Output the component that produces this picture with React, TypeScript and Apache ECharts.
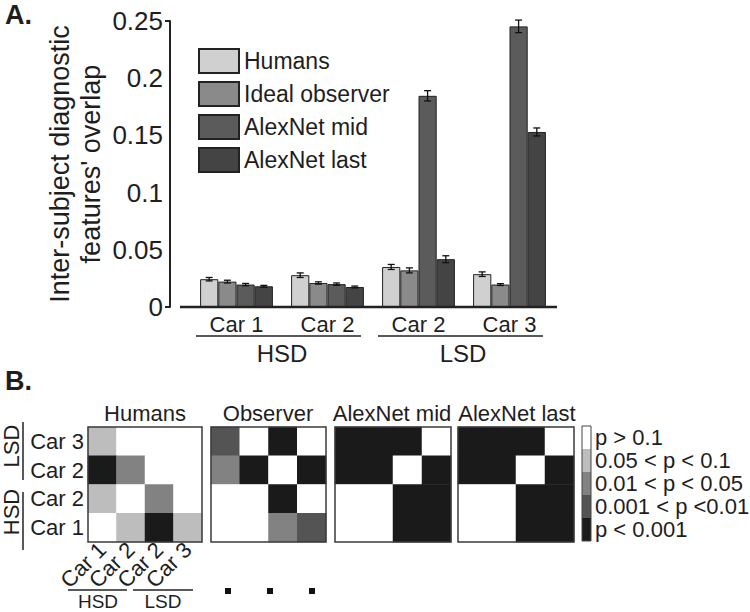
import React, { useEffect, useRef } from "react";
import * as echarts from "echarts";

// ---------- Panel A data ----------
const barCategories = ["Car 1", "Car 2", "Car 2", "Car 3"];
const seriesNames = ["Humans", "Ideal observer", "AlexNet mid", "AlexNet last"];
const humansVals = [0.0243, 0.0278, 0.035, 0.0287];
const idealVals = [0.0222, 0.021, 0.032, 0.0196];
const midVals = [0.0196, 0.0200, 0.1846, 0.2453];
const lastVals = [0.0181, 0.0175, 0.0418, 0.153];
const humansErr = [0.0015, 0.002, 0.0022, 0.002];
const idealErr = [0.0012, 0.001, 0.0022, 0.0008];
const midErr = [0.001, 0.001, 0.0045, 0.0055];
const lastErr = [0.0008, 0.0008, 0.003, 0.0035];
const yTicks = [0, 0.05, 0.1, 0.15, 0.2, 0.25];

// ---------- Panel B data ----------
// level codes: 0 = p<0.001, 1 = 0.001<p<0.01, 2 = 0.01<p<0.05, 3 = 0.05<p<0.1, 4 = p>0.1
const matCols = ["Car 1", "Car 2", "Car 2", "Car 3"]; // HSD Car1, HSD Car2, LSD Car2, LSD Car3
const matRows = ["Car 1", "Car 2", "Car 2", "Car 3"]; // bottom to top
const matTitles = ["Humans", "Observer", "AlexNet mid", "AlexNet last"];
// rows listed top (LSD Car 3) to bottom (HSD Car 1)
const humansMat = [
  [3, 4, 4, 4],
  [0, 2, 4, 4],
  [3, 4, 2, 4],
  [4, 3, 0, 3],
];
const observerMat = [
  [1, 4, 0, 4],
  [2, 0, 4, 0],
  [4, 4, 0, 4],
  [4, 4, 2, 1],
];
const alexMidMat = [
  [0, 0, 0, 4],
  [0, 0, 4, 0],
  [4, 4, 0, 0],
  [4, 4, 0, 0],
];
const alexLastMat = [
  [0, 0, 0, 4],
  [0, 0, 4, 0],
  [4, 4, 0, 0],
  [4, 4, 0, 0],
];
const levelLabels = ["p < 0.001", "0.001 < p <0.01", "0.01 < p < 0.05", "0.05 < p < 0.1", "p > 0.1"];
const levelColors = ["#1a1a1a", "#545454", "#828282", "#bdbdbd", "#ffffff"];

const FONT = "'Liberation Sans', Arial, Helvetica, sans-serif";
const TXT = "#1e1e1e";

function toCells(mat: number[][]) {
  const out: number[][] = [];
  mat.forEach((row, r) => {
    row.forEach((v, c) => out.push([c, 3 - r, v]));
  });
  return out;
}

export default function App() {
  const ref = useRef<HTMLDivElement>(null);
  useEffect(() => {
    document.body.style.margin = "0";
    const chart = echarts.init(ref.current!, null, { renderer: "svg" });

    const barColors = ["#d0d0d0", "#8a8a8a", "#5b5b5b", "#444444"];
    const vals = [humansVals, idealVals, midVals, lastVals];
    const errs = [humansErr, idealErr, midErr, lastErr];
    const errData: number[][] = [];
    vals.forEach((arr, s) => arr.forEach((v, c) => errData.push([c, v, errs[s][c], s])));

    const mats = [humansMat, observerMat, alexMidMat, alexLastMat];
    const hmGrids = [
      { left: 88, top: 427, width: 114, height: 115 },
      { left: 211, top: 427, width: 115, height: 115 },
      { left: 335, top: 427, width: 116, height: 115 },
      { left: 458, top: 427, width: 116, height: 115 },
    ];

    const grids: any[] = [{ left: 191, right: 195, top: 21, bottom: 305 }];
    hmGrids.forEach((g) => grids.push({ ...g }));

    const xAxes: any[] = [
      {
        type: "category",
        gridIndex: 0,
        data: barCategories,
        axisLine: { show: false },
        axisTick: { show: false },
        axisLabel: { fontSize: 22, color: TXT, fontFamily: FONT, margin: 6, interval: 0 },
      },
    ];
    const yAxes: any[] = [
      {
        type: "value",
        gridIndex: 0,
        min: 0,
        max: 0.25,
        interval: 0.05,
        offset: 21,
        splitLine: { show: false },
        axisLine: { show: true, lineStyle: { color: "#222", width: 2 } },
        axisTick: { show: false },
        axisLabel: { fontSize: 26, color: TXT, fontFamily: FONT, margin: 7 },
        name: "Inter-subject diagnostic\nfeatures' overlap",
        nameLocation: "middle",
        nameGap: 64,
        nameTextStyle: { fontSize: 27, color: TXT, fontFamily: FONT, lineHeight: 31 },
      },
    ];
    hmGrids.forEach((g, i) => {
      xAxes.push({
        type: "category",
        gridIndex: i + 1,
        data: matCols,
        axisLine: { show: false },
        axisTick: { show: true, inside: true, length: 3, alignWithLabel: true, lineStyle: { color: "#666" } },
        axisLabel: i === 0
          ? { show: true, rotate: 45, interval: 0, fontSize: 22, color: TXT, fontFamily: FONT, margin: 4 }
          : { show: false },
      });
      yAxes.push({
        type: "category",
        gridIndex: i + 1,
        data: matRows,
        axisLine: { show: false },
        axisTick: { show: true, inside: true, length: 3, alignWithLabel: true, lineStyle: { color: "#666" } },
        axisLabel: i === 0
          ? { show: true, interval: 0, fontSize: 22, color: TXT, fontFamily: FONT, margin: 4 }
          : { show: false },
      });
    });

    const series: any[] = vals.map((arr, s) => ({
      name: seriesNames[s],
      type: "bar",
      xAxisIndex: 0,
      yAxisIndex: 0,
      data: arr,
      barGap: "0%",
      barCategoryGap: "20%",
      itemStyle: { color: barColors[s], borderColor: "#222", borderWidth: 1 },
    }));
    series.push({
      type: "custom",
      name: "err",
      xAxisIndex: 0,
      yAxisIndex: 0,
      data: errData,
      encode: { x: 0, y: 1 },
      z: 5,
      renderItem: (params: any, api: any) => {
        const c = api.value(0);
        const v = api.value(1);
        const e = api.value(2);
        const s = api.value(3);
        const band = api.size([1, 0])[0];
        const bw = (band * 0.8) / 4;
        const center = api.coord([c, v]);
        const x = center[0] - band * 0.4 + (s + 0.5) * bw;
        const top = api.coord([c, v + e])[1];
        const bot = api.coord([c, v - e])[1];
        const cap = 3.5;
        const st = { stroke: "#111", lineWidth: 1.3 };
        return {
          type: "group",
          children: [
            { type: "line", shape: { x1: x, y1: top, x2: x, y2: bot }, style: st },
            { type: "line", shape: { x1: x - cap, y1: top, x2: x + cap, y2: top }, style: st },
            { type: "line", shape: { x1: x - cap, y1: bot, x2: x + cap, y2: bot }, style: st },
          ],
        };
      },
    });
    mats.forEach((m, i) => {
      series.push({
        type: "heatmap",
        name: matTitles[i],
        xAxisIndex: i + 1,
        yAxisIndex: i + 1,
        data: toCells(m),
        itemStyle: { borderWidth: 0 },
        emphasis: { disabled: true },
      });
    });

    const graphics: any[] = [];
    const txt = (text: string, x: number, y: number, size: number, extra: any = {}) => ({
      type: "text",
      x,
      y,
      rotation: extra.rotation || 0,
      style: {
        text,
        fontSize: size,
        fontFamily: FONT,
        fontWeight: extra.bold ? "bold" : "normal",
        fill: TXT,
        textAlign: extra.align || "center",
        textVerticalAlign: "middle",
      },
      z: 10,
    });
    const ln = (x1: number, y1: number, x2: number, y2: number, w = 1.5, color = "#222") => ({
      type: "line",
      shape: { x1, y1, x2, y2 },
      style: { stroke: color, lineWidth: w },
      z: 10,
    });
    // Panel labels
    graphics.push(txt("A.", 5, 15, 27, { bold: true, align: "left" }));
    graphics.push(txt("B.", 5, 381, 27, { bold: true, align: "left" }));
    // bar chart x axis baseline and y end ticks
    graphics.push(ln(180, 307, 557, 307, 2.5));
    graphics.push(ln(165, 21, 170, 21, 2));
    graphics.push(ln(165, 307, 170, 307, 2));
    // group annotations for bar chart
    graphics.push(ln(196, 336, 361, 336, 1.5));
    graphics.push(ln(378, 336, 543, 336, 1.5));
    graphics.push(txt("HSD", 282, 353, 24));
    graphics.push(txt("LSD", 463, 353, 24));
    // heatmap titles & frames
    const titleX = [145, 268, 392, 517];
    hmGrids.forEach((g, i) => {
      graphics.push(txt(matTitles[i], titleX[i], 413, 22));
      graphics.push({
        type: "rect",
        shape: { x: g.left, y: g.top, width: g.width, height: g.height },
        style: { fill: "none", stroke: "#3a3a3a", lineWidth: 1.5 },
        z: 10,
      });
    });
    // row group labels
    graphics.push(ln(23, 422, 23, 480, 1.5));
    graphics.push(ln(23, 492, 23, 550, 1.5));
    graphics.push(txt("LSD", 11, 446, 22, { rotation: Math.PI / 2 }));
    graphics.push(txt("HSD", 11, 512, 22, { rotation: Math.PI / 2 }));
    // column group labels
    graphics.push(ln(68, 590, 127, 590, 1.5));
    graphics.push(ln(133, 590, 193, 590, 1.5));
    graphics.push(txt("HSD", 98, 601, 19));
    graphics.push(txt("LSD", 163, 601, 19));
    // small dots under other matrices
    [228, 270, 312].forEach((x) => {
      graphics.push({ type: "rect", shape: { x: x - 3, y: 588, width: 6, height: 6 }, style: { fill: "#111" }, z: 10 });
    });
    // colorbar frame
    graphics.push({
      type: "rect",
      shape: { x: 582, y: 426, width: 9, height: 115 },
      style: { fill: "none", stroke: "#444", lineWidth: 1 },
      z: 10,
    });

    chart.setOption({
      animation: false,
      backgroundColor: "#ffffff",
      textStyle: { fontFamily: FONT },
      grid: grids,
      xAxis: xAxes,
      yAxis: yAxes,
      legend: {
        data: seriesNames,
        orient: "vertical",
        left: 198,
        top: 48,
        padding: 0,
        itemWidth: 40,
        itemHeight: 24,
        itemGap: 7,
        icon: "rect",
        selectedMode: false,
        textStyle: { fontSize: 23, color: TXT, fontFamily: FONT },
      },
      visualMap: {
        type: "piecewise",
        seriesIndex: [5, 6, 7, 8],
        orient: "vertical",
        left: 582,
        top: 426,
        padding: 0,
        itemWidth: 9,
        itemHeight: 23,
        itemGap: 0,
        itemSymbol: "rect",
        textGap: 4,
        align: "left",
        hoverLink: false,
        selectedMode: false,
        textStyle: { fontSize: 22, color: TXT, fontFamily: FONT },
        pieces: levelLabels.map((l, i) => ({ value: i, label: l, color: levelColors[i] })),
      },
      series,
      graphic: graphics,
    });
    return () => chart.dispose();
  }, []);
  return <div ref={ref} style={{ width: 750, height: 612 }} />;
}
